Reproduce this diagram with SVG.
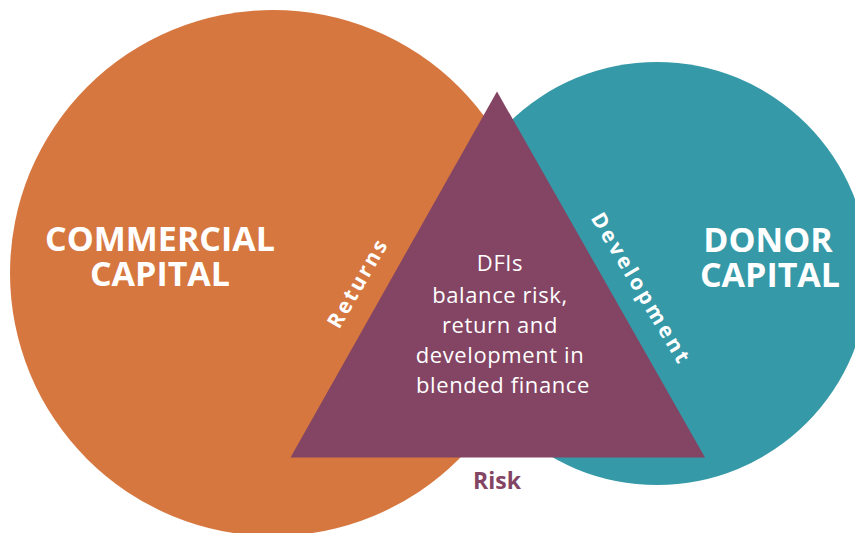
<svg xmlns="http://www.w3.org/2000/svg" width="855" height="533" viewBox="0 0 855 533">
<style>
.big{font-family:"Open Sans","Liberation Sans",sans-serif;font-weight:700;font-size:34px;fill:#ffffff;text-anchor:middle}
.edge{font-family:"Open Sans","Liberation Sans",sans-serif;font-weight:700;font-size:21px;fill:#ffffff;text-anchor:middle}
.mid{font-family:"Open Sans","Liberation Sans",sans-serif;font-weight:400;font-size:22px;fill:#ffffff;text-anchor:middle;letter-spacing:0.6px}
.risk{font-family:"Open Sans","Liberation Sans",sans-serif;font-weight:700;font-size:23px;fill:#834563;text-anchor:middle}
</style>
<rect width="855" height="533" fill="#ffffff"/>
<g id="commercial">
<circle cx="273" cy="273" r="263" fill="#D77740"/>
<text class="big" x="160" y="251">COMMERCIAL<tspan x="160" dy="35">CAPITAL</tspan></text>
</g>
<g id="donor">
<circle cx="657" cy="273.5" r="211.5" fill="#3599A8"/>
<text class="big" x="768" y="252">DONOR<tspan x="770" dy="35">CAPITAL</tspan></text>
</g>
<g id="dfi">
<polygon points="497,91.5 705,457.5 290.5,457.5" fill="#834563"/>
<text class="mid" x="500" y="271">DFIs<tspan x="500" dy="32">balance risk,</tspan><tspan x="500" dy="30">return and</tspan><tspan x="500" dy="30">development in</tspan><tspan x="503" dy="30">blended  finance</tspan></text>
</g>
<g id="connectors">
<text class="edge" transform="translate(358,283) rotate(-60)" y="7" style="letter-spacing:2.5px">Returns</text>
<text class="edge" transform="translate(641,289) rotate(59)" y="7" style="letter-spacing:3px">Development</text>
<text class="risk" x="497" y="489">Risk</text>
</g>
</svg>
